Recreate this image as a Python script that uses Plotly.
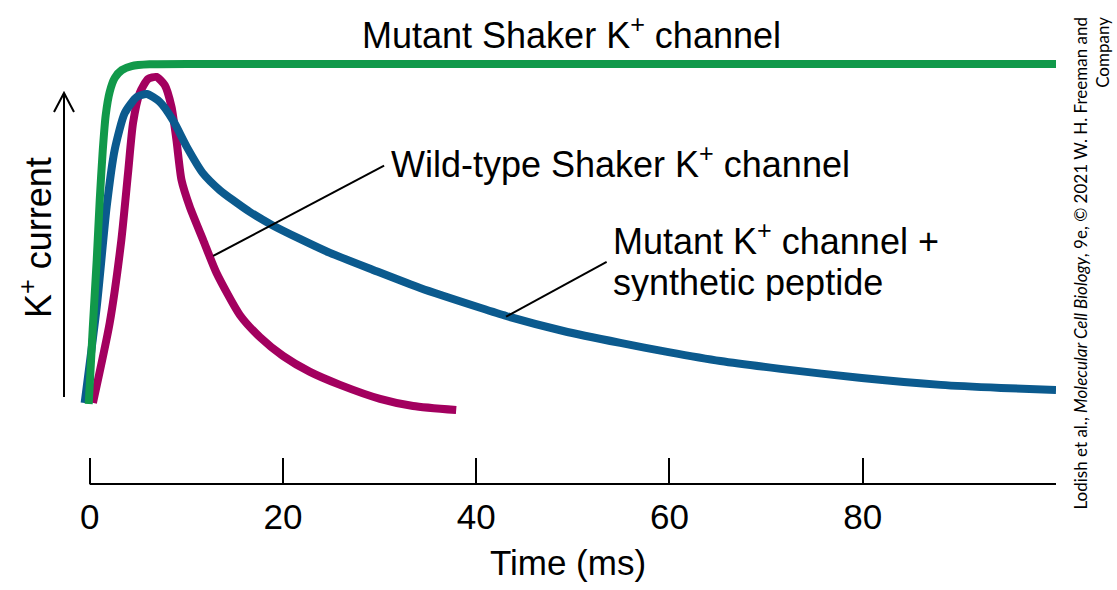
import plotly.graph_objects as go

# ---- data (time in ms, relative K+ current) ----
mutant_t = [-0.10, 0.31, 0.73, 1.04, 1.35, 1.66, 2.07, 2.59, 3.32, 4.35, 6.2, 11.4, 100]
mutant_i = [0.003, 0.22, 0.425, 0.60, 0.745, 0.85, 0.918, 0.959, 0.982, 0.994, 0.999, 1.0, 1.0]

peptide_t = [-0.52, 0.73, 1.76, 2.59, 3.63, 4.87, 5.91, 7.25, 8.60, 10.05, 11.71, 13.47, 14.82,
             16.58, 18.86, 21.76, 24.87, 29.33, 34.20, 40.41, 43.11, 49.02, 54.92, 59.90,
             65.28, 71.50, 79.90, 88.08, 94.30, 100]
peptide_i = [0.006, 0.287, 0.581, 0.748, 0.856, 0.903, 0.912, 0.889, 0.836, 0.757, 0.680, 0.630,
             0.601, 0.566, 0.528, 0.487, 0.446, 0.396, 0.343, 0.285, 0.261, 0.217, 0.182, 0.155,
             0.129, 0.106, 0.079, 0.059, 0.050, 0.044]

wild_t = [0.34, 2.07, 3.28, 3.97, 4.49, 5.18, 6.04, 6.91, 7.77, 8.47, 8.98, 9.50, 10.36, 11.74,
          13.13, 15.54, 17.62, 20.0, 22.80, 25.91, 30.05, 33.47, 37.93]
wild_i = [0.006, 0.240, 0.484, 0.680, 0.827, 0.915, 0.956, 0.962, 0.938, 0.874, 0.777, 0.660,
          0.581, 0.484, 0.387, 0.264, 0.199, 0.144, 0.097, 0.059, 0.018, -0.003, -0.015]

tick_vals = [0, 20, 40, 60, 80, 100]
tick_text = ["0", "20", "40", "60", "80", ""]

# ---- layout helpers ----
W, H = 1117, 590
ML, MR, MT, MB = 80, 61, 0, 106
PW, PH = W - ML - MR, H - MT - MB


def pxx(p):
    return (p - ML) / PW


def pxy(p):
    return (H - MB - p) / PH


FONT = "Liberation Sans, Arial, Helvetica, sans-serif"
LBL = dict(family=FONT, size=36, color="black")

fig = go.Figure()
fig.add_trace(go.Scatter(x=wild_t, y=wild_i, mode="lines",
                         line=dict(color="#a3005f", width=8, shape="spline", smoothing=0.6),
                         hoverinfo="skip", showlegend=False))
fig.add_trace(go.Scatter(x=peptide_t, y=peptide_i, mode="lines",
                         line=dict(color="#0b5a8e", width=8, shape="spline", smoothing=0.6),
                         hoverinfo="skip", showlegend=False))
fig.add_trace(go.Scatter(x=mutant_t, y=mutant_i, mode="lines",
                         line=dict(color="#11994a", width=8, shape="spline", smoothing=0.6),
                         hoverinfo="skip", showlegend=False))

shapes = [
    # x-axis baseline from 0 to 100 ms
    dict(type="line", xref="x", yref="paper", x0=0, x1=100, y0=0, y1=0,
         line=dict(color="black", width=2)),
    # leader lines
    dict(type="line", xref="x", yref="y", x0=12.78, y0=0.437, x1=30.47, y1=0.702,
         line=dict(color="black", width=2)),
    dict(type="line", xref="x", yref="y", x0=43.09, y0=0.259, x1=53.5, y1=0.420,
         line=dict(color="black", width=2)),
    # y arrow
    dict(type="path", xref="paper", yref="paper",
         path=(f"M {pxx(64)} {pxy(397)} L {pxx(64)} {pxy(93)} "
               f"M {pxx(54)} {pxy(112)} L {pxx(64)} {pxy(93)} L {pxx(74)} {pxy(112)}"),
         line=dict(color="black", width=2)),
]

annotations = [
    dict(text="Mutant Shaker K<sup>+</sup> channel", xref="x", yref="y", x=49.9, y=1.09,
         xanchor="center", yanchor="middle", showarrow=False, font=LBL),
    dict(text="Wild-type Shaker K<sup>+</sup> channel", xref="x", yref="y", x=31.0, y=0.713,
         xanchor="left", yanchor="middle", showarrow=False, font=LBL),
    dict(text="Mutant K<sup>+</sup> channel +", xref="x", yref="y",
         x=53.9, y=0.486, xanchor="left", yanchor="middle", showarrow=False, font=LBL,
         height=38, valign="middle"),
    dict(text="synthetic peptide", xref="x", yref="y",
         x=53.9, y=0.362, xanchor="left", yanchor="middle", showarrow=False, font=LBL,
         height=38, valign="middle"),
    dict(text="K<sup>+</sup> current", xref="paper", yref="paper", x=pxx(36), y=pxy(238),
         xanchor="center", yanchor="middle", textangle=-90, showarrow=False, font=LBL),
    dict(text="Lodish et al., <i>Molecular Cell Biology</i>, 9e, © 2021 W. H. Freeman and<br>Company",
         xref="paper", yref="paper", x=pxx(1091), y=pxy(15), xanchor="center", yanchor="top",
         align="right", textangle=-90, showarrow=False,
         font=dict(family="Lato, Open Sans, sans-serif", size=17, color="black")),
]

fig.update_layout(
    width=W, height=H,
    margin=dict(l=ML, r=MR, t=MT, b=MB),
    paper_bgcolor="white", plot_bgcolor="white",
    shapes=shapes, annotations=annotations,
    xaxis=dict(range=[-1, 100], tickvals=tick_vals, ticktext=tick_text,
               ticks="inside", ticklen=26, tickwidth=1.5, tickcolor="black",
               showline=False, showgrid=False, zeroline=False,
               ticklabelstandoff=9,
               tickfont=dict(family=FONT, size=35, color="black"),
               title=dict(text="Time (ms)", font=dict(family=FONT, size=35, color="black"),
                          standoff=15)),
    yaxis=dict(range=[-0.2317, 1.1877], visible=False, showgrid=False, zeroline=False),
)

fig.write_html("out.html")
